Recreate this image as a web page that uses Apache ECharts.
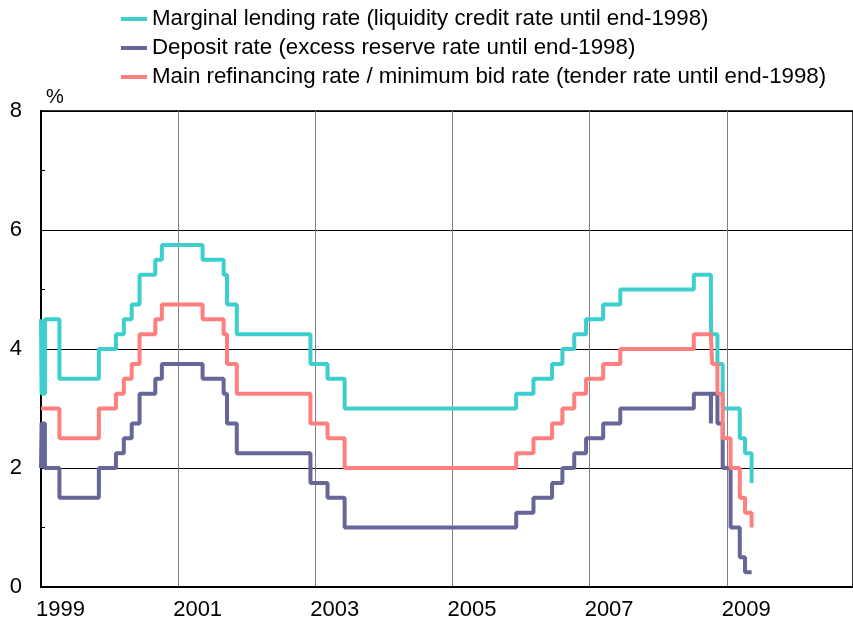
<!DOCTYPE html>
<html lang="en">
<head>
    <meta charset="UTF-8">
    <title>ECB interest rates</title>
    <script src="https://cdn.jsdelivr.net/npm/echarts@6/dist/echarts.min.js"></script>
    <style>
        html, body { margin: 0; padding: 0; background: #fff; }
        #main { width: 853px; height: 634px; }
    </style>
</head>
<body>
<div id="main"></div>
<script>
    // dates of rate changes (value holds until the next date)
    var changeDates = [
        '1999-01-01', '1999-01-04', '1999-01-22', '1999-04-09', '1999-11-05',
        '2000-02-04', '2000-03-17', '2000-04-28', '2000-06-09', '2000-09-01', '2000-10-06',
        '2001-05-11', '2001-08-31', '2001-09-18', '2001-11-09',
        '2002-12-06', '2003-03-07', '2003-06-06',
        '2005-12-06', '2006-03-08', '2006-06-15', '2006-08-09', '2006-10-11', '2006-12-13',
        '2007-03-14', '2007-06-13',
        '2008-07-09', '2008-10-08', '2008-10-09', '2008-10-15', '2008-11-12', '2008-12-10',
        '2009-01-21', '2009-03-11', '2009-04-08', '2009-05-13'
    ];
    var marginalRate = [
        4.50, 3.25, 4.50, 3.50, 4.00,
        4.25, 4.50, 4.75, 5.25, 5.50, 5.75,
        5.50, 5.25, 4.75, 4.25,
        3.75, 3.50, 3.00,
        3.25, 3.50, 3.75, 4.00, 4.25, 4.50,
        4.75, 5.00,
        5.25, 4.75, 4.25, 4.25, 3.75, 3.00,
        3.00, 2.50, 2.25, 1.75
    ];
    var depositRate = [
        2.00, 2.75, 2.00, 1.50, 2.00,
        2.25, 2.50, 2.75, 3.25, 3.50, 3.75,
        3.50, 3.25, 2.75, 2.25,
        1.75, 1.50, 1.00,
        1.25, 1.50, 1.75, 2.00, 2.25, 2.50,
        2.75, 3.00,
        3.25, 2.75, 3.25, 3.25, 2.75, 2.00,
        1.00, 0.50, 0.25, 0.25
    ];
    var mainRate = [
        3.00, 3.00, 3.00, 2.50, 3.00,
        3.25, 3.50, 3.75, 4.25, 4.50, 4.75,
        4.50, 4.25, 3.75, 3.25,
        2.75, 2.50, 2.00,
        2.25, 2.50, 2.75, 3.00, 3.25, 3.50,
        3.75, 4.00,
        4.25, 4.25, 4.25, 3.75, 3.25, 2.50,
        2.00, 1.50, 1.25, 1.00
    ];
    var seriesNames = [
        'Marginal lending rate (liquidity credit rate until end-1998)',
        'Deposit rate (excess reserve rate until end-1998)',
        'Main refinancing rate / minimum bid rate (tender rate until end-1998)'
    ];
    var seriesColors = ['#3ccfcd', '#666699', '#ff7f7f'];

    // date string -> fractional year
    function toYear(s) {
        var p = s.split('-');
        var y = +p[0];
        var start = Date.UTC(y, 0, 1), end = Date.UTC(y + 1, 0, 1);
        return y + (Date.UTC(y, +p[1] - 1, +p[2]) - start) / (end - start);
    }

    function pairs(values) {
        var out = [];
        for (var i = 0; i < changeDates.length; i++) {
            out.push([toYear(changeDates[i]), values[i]]);
        }
        return out;
    }

    var allValues = [marginalRate, depositRate, mainRate];
    var series = [];
    for (var i = 0; i < 3; i++) {
        series.push({
            name: seriesNames[i],
            type: 'line',
            step: 'end',
            symbol: 'none',
            color: seriesColors[i],
            lineStyle: { width: 4, color: seriesColors[i] },
            data: pairs(allValues[i])
        });
    }

    var myChart = echarts.init(document.getElementById('main'));
    var option = {
        animation: false,
        textStyle: { fontFamily: 'Liberation Sans, Arial, sans-serif', color: '#000' },
        legend: {
            orient: 'vertical',
            left: 121,
            top: 7,
            padding: 0,
            itemGap: 5,
            itemWidth: 26,
            itemHeight: 4,
            icon: 'rect',
            textStyle: { fontSize: 22.3, lineHeight: 24, color: '#000' },
            data: seriesNames
        },
        grid: {
            left: 41,
            right: -2,
            top: 111,
            bottom: 47,
            show: true,
            borderColor: '#333',
            borderWidth: 2
        },
        xAxis: {
            type: 'value',
            min: 1999,
            max: 2010.84,
            interval: 2,
            axisLine: { show: true, lineStyle: { color: '#000', width: 2 } },
            axisTick: { show: false },
            splitLine: { show: true, lineStyle: { color: '#808080', width: 1 } },
            axisLabel: {
                fontSize: 22,
                color: '#000',
                margin: 12,
                align: 'left',
                padding: [0, 0, 0, -5],
                showMaxLabel: false,
                formatter: function (v) { return Number.isInteger(v) ? String(v) : ''; }
            }
        },
        yAxis: {
            type: 'value',
            min: 0,
            max: 8,
            interval: 2,
            name: '%',
            nameLocation: 'end',
            nameGap: 4,
            nameTextStyle: { fontSize: 20, color: '#000', align: 'left', padding: [0, 0, 0, 5] },
            axisLine: { show: true, lineStyle: { color: '#000', width: 2 } },
            axisTick: { show: true, inside: true, length: 4, lineStyle: { color: '#000' } },
            minorTick: { show: true, splitNumber: 2, length: 4, lineStyle: { color: '#000' } },
            splitLine: { show: true, lineStyle: { color: '#000', width: 1 } },
            axisLabel: { fontSize: 22, color: '#000', margin: 19 }
        },
        series: series
    };
    myChart.setOption(option);
</script>
</body>
</html>
